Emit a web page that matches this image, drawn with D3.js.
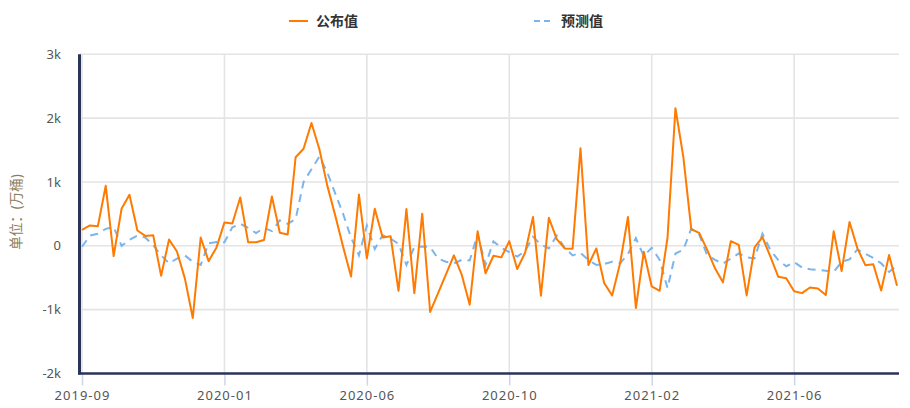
<!DOCTYPE html>
<html>
<meta charset="utf-8" />
<style>
  body { margin: 0; background: #fff; }
  svg text { font-family: "Noto Sans", "Noto Sans CJK SC", sans-serif; }
  .grid line { stroke: #e4e4e4; stroke-width: 1.6; }
  .tick-label { fill: #555; font-size: 13px; }
</style>
<body>
<script src="https://d3js.org/d3.v7.min.js"></script>
<script>
  let width = 910,
    height = 408;

  // weekly report dates, first one 2019-09-25
  let startDate = new Date(2019, 8, 25);
  let pointCount = 104;
  let labelEvery = 18;

  let seriesNames = ["公布值", "预测值"];

  let published = [
    250, 320, 305, 940, -160, 580, 800, 240, 155, 165,
    -470, 100, -90, -510, -1130, 130, -240, -25, 365, 350,
    757, 55, 55, 90, 772, 205, 178, 1388, 1520, 1925,
    1513, 943, 477, -16, -482, 803, -197, 580, 130, 150,
    -705, 575, -741, 503, -1036, -741, -446, -150, -456, -922,
    228, -430, -155, -181, 73, -363, -109, 451, -782, 440,
    104, -41, -45, 1528, -300, -41, -585, -777, -275, 451,
    -974, -93, -637, -705, 130, 2155, 1390, 260, 202, -60,
    -352, -572, 73, 15, -777, -26, 135, -171, -485, -508,
    -713, -741, -653, -668, -772, 228, -396, 373, -40, -303,
    -288, -700, -145, -627
  ];

  let forecast = [
    -15, 160, 190, 265, 295, 0, 95, 160, 130, 10,
    -150, -275, -200, -150, -250, -300, 40, 60, 55, 290,
    345, 280, 200, 280, 230, 400, 345, 420, 1000, 1200,
    1400, 1150, 820, 500, 130, -150, 320, -50, 166, 114,
    30, -300, -20, -10, -20, -200, -250, -275, -220, -230,
    180, -300, 70, -30, -100, -170, -80, 140, 20, -40,
    160, -30, -150, -109, -223, -300, -285, -249, -275, -130,
    120, -160, -30, -220, -663, -120, -60, 269, 180, -145,
    -220, -280, -200, -120, -180, -197, 191, -67, -223, -320,
    -255, -340, -368, -378, -390, -410, -249, -212, -57, -125,
    -190, -275, -410, -310
  ];

  let yTicks = [-2000, -1000, 0, 1000, 2000, 3000];

  let dates = d3.range(pointCount).map((i) => d3.timeWeek.offset(startDate, i));
  let fmtMonth = d3.timeFormat("%Y-%m");

  let plotLeft = 80, plotRight = 899, plotTop = 54.3, plotBottom = 373.5;

  let svg = d3
    .select("body")
    .append("svg")
    .attr("width", width)
    .attr("height", height);

  let x = d3
    .scalePoint()
    .domain(d3.range(pointCount))
    .range([82, 897]);

  let y = d3.scaleLinear().domain([-2000, 3000]).range([plotBottom, plotTop]);

  let tickIdx = d3.range(0, pointCount, labelEvery);

  // horizontal grid
  svg
    .append("g")
    .attr("class", "grid")
    .selectAll("line")
    .data(yTicks.filter((d) => d > -2000))
    .join("line")
    .attr("x1", plotLeft)
    .attr("x2", plotRight)
    .attr("y1", (d) => y(d))
    .attr("y2", (d) => y(d));

  // vertical grid
  svg
    .append("g")
    .attr("class", "grid")
    .selectAll("line")
    .data(tickIdx)
    .join("line")
    .attr("x1", (d) => x(d))
    .attr("x2", (d) => x(d))
    .attr("y1", plotTop)
    .attr("y2", plotBottom);

  // x ticks + labels
  let xAxis = d3
    .axisBottom(x)
    .tickValues(tickIdx)
    .tickSize(12)
    .tickPadding(5)
    .tickFormat((i) => fmtMonth(dates[i]));

  let gx = svg
    .append("g")
    .attr("transform", "translate(0," + plotBottom + ")")
    .call(xAxis);
  gx.select(".domain").remove();
  gx.selectAll(".tick line").attr("stroke", "#ccd6eb").attr("stroke-width", 1.5);
  gx.selectAll(".tick text")
    .attr("class", "tick-label")
    .style("letter-spacing", "1px")
    .attr("font-size", null);

  // y labels
  let yAxis = d3
    .axisLeft(y)
    .tickValues(yTicks)
    .tickSize(0)
    .tickPadding(19)
    .tickFormat((d) => (d === 0 ? "0" : d / 1000 + "k"));

  let gy = svg
    .append("g")
    .attr("transform", "translate(" + plotLeft + ",0)")
    .call(yAxis);
  gy.select(".domain").remove();
  gy.selectAll(".tick text").attr("class", "tick-label").attr("font-size", null);

  // axis lines
  svg
    .append("line")
    .attr("x1", plotLeft - 0.5)
    .attr("x2", plotLeft - 0.5)
    .attr("y1", plotTop)
    .attr("y2", plotBottom + 1)
    .attr("stroke", "#2b3359")
    .attr("stroke-width", 3);
  svg
    .append("line")
    .attr("x1", plotLeft - 2)
    .attr("x2", plotRight)
    .attr("y1", plotBottom)
    .attr("y2", plotBottom)
    .attr("stroke", "#2b3359")
    .attr("stroke-width", 2.5);

  // y title
  svg
    .append("text")
    .attr("transform", "translate(21,212) rotate(-90)")
    .attr("text-anchor", "middle")
    .attr("fill", "#8b7d5b")
    .style("font-size", "13.5px")
    .text("单位：(万桶)");

  let line = d3
    .line()
    .x((d, i) => x(i))
    .y((d) => y(d));

  svg
    .append("path")
    .datum(forecast)
    .attr("fill", "none")
    .attr("stroke", "#7cb5ec")
    .attr("stroke-width", 2)
    .attr("stroke-dasharray", "8,6")
    .attr("d", line);

  svg
    .append("path")
    .datum(published)
    .attr("fill", "none")
    .attr("stroke", "#ff7a00")
    .attr("stroke-width", 2)
    .attr("stroke-linejoin", "round")
    .attr("d", line);

  // legend
  let legendX = [289, 534];
  let legend = svg
    .selectAll(".legend")
    .data(seriesNames)
    .join("g")
    .attr("class", "legend")
    .attr("transform", (d, i) => "translate(" + legendX[i] + ",21)");

  legend
    .append("line")
    .attr("x1", 0)
    .attr("x2", 19)
    .attr("stroke", (d, i) => (i === 0 ? "#ff7a00" : "#7cb5ec"))
    .attr("stroke-width", 2)
    .attr("stroke-dasharray", (d, i) => (i === 0 ? null : "6,4"));

  legend
    .append("text")
    .attr("x", 27)
    .attr("dy", "0.35em")
    .attr("fill", "#333")
    .style("font-size", "14px")
    .style("font-weight", "bold")
    .text((d) => d);
</script>
</body>
</html>
